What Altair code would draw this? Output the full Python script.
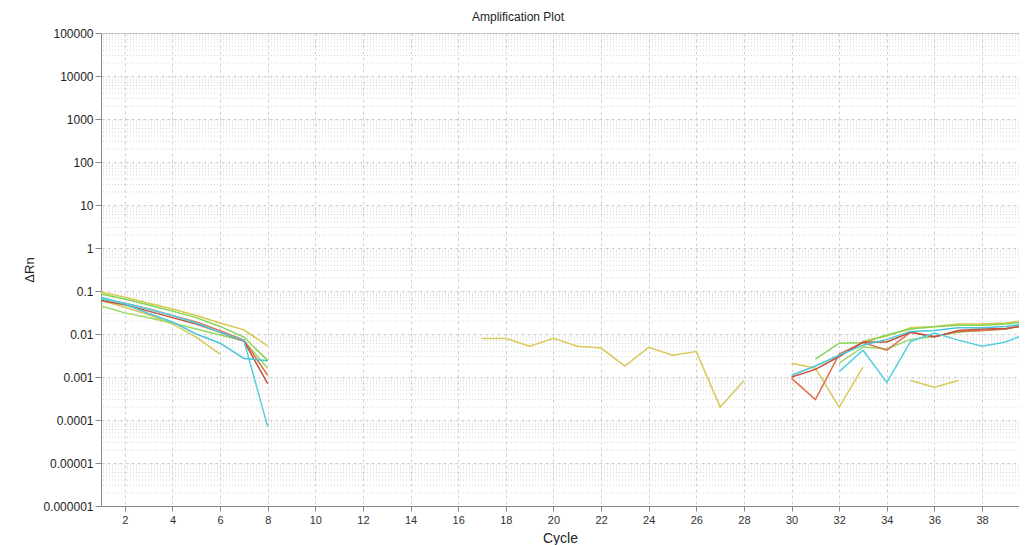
import altair as alt
import pandas as pd

N = None
cycles = list(range(1, 41))

series_names = ["yellow_a", "yellow_b", "green_a", "green_b", "red_a", "red_b", "cyan_a", "cyan_b"]
series_colors = ["#d6c94a", "#d9c95a", "#86d456", "#9ad860", "#e0704e", "#c2503c", "#4cc6d8", "#58cde0"]

yellow_a = [0.095, 0.072, 0.052, 0.038, 0.027, 0.018, 0.0125, 0.0053] + [N] * 24 + \
           [0.0068, 0.009, 0.014, 0.015, 0.017, 0.017, 0.018, 0.021]
yellow_b = [0.06, 0.042, 0.028, 0.017, 0.0085, 0.0034] + [N] * 10 + \
           [0.0079, 0.0079, 0.0052, 0.0079, 0.0052, 0.0047, 0.0018, 0.0049, 0.0032, 0.0039, 0.0002, 0.00082] + \
           [N] + [0.0021, 0.0016, 0.0002, 0.0017] + [N] + [0.00083, 0.00058, 0.00083] + [N] * 3
green_a = [0.085, 0.065, 0.047, 0.034, 0.024, 0.015, 0.0085, 0.0024] + [N] * 22 + \
          [0.0026, 0.0061, 0.0063, 0.0095, 0.013, 0.0148, 0.016, 0.016, 0.017, 0.02]
green_b = [0.045, 0.031, 0.024, 0.018, 0.013, 0.0095, 0.007, 0.0016] + [N] * 23 + \
          [0.0021, 0.005, 0.0045, 0.0075, 0.0087, 0.011, 0.012, 0.013, 0.018]
red_a = [0.065, 0.052, 0.038, 0.027, 0.019, 0.012, 0.0072, 0.0011] + [N] * 21 + \
        [0.00093, 0.0003, 0.0034, 0.0063, 0.0042, 0.011, 0.0087, 0.0115, 0.012, 0.013, 0.017]
red_b = [0.06, 0.048, 0.034, 0.024, 0.017, 0.011, 0.0068, 0.0007] + [N] * 21 + \
        [0.001, 0.0015, 0.003, 0.0065, 0.0065, 0.011, 0.0085, 0.012, 0.013, 0.0135, 0.016]
cyan_a = [0.072, 0.05, 0.03, 0.019, 0.01, 0.0061, 0.0027, 0.0024] + [N] * 21 + \
         [0.0011, 0.0018, 0.0032, 0.0055, 0.0075, 0.0115, 0.012, 0.014, 0.014, 0.015, 0.018]
cyan_b = [0.065, 0.052, 0.038, 0.027, 0.018, 0.011, 0.007, 0.00007] + [N] * 23 + \
         [0.00133, 0.0042, 0.00075, 0.0067, 0.0105, 0.0072, 0.0052, 0.0065, 0.011]

x_ticks = list(range(2, 40, 2))
y_ticks = [1e-6, 1e-5, 1e-4, 1e-3, 1e-2, 1e-1, 1, 10, 100, 1000, 10000, 100000]

all_series = dict(zip(series_names, [yellow_a, yellow_b, green_a, green_b, red_a, red_b, cyan_a, cyan_b]))

rows = []
for name, vals in all_series.items():
    seg = 0
    prev = False
    for c, v in zip(cycles, vals):
        if v is None:
            prev = False
            continue
        if not prev:
            seg += 1
        rows.append({"series": name, "cycle": c, "drn": v, "seg": f"{name}-{seg}"})
        prev = True
df = pd.DataFrame(rows)

minor = [m * 10.0 ** e for e in range(-6, 5) for m in range(2, 10)]
minor_df = pd.DataFrame({"v": minor})

FONT = "Liberation Sans"
xscale = alt.Scale(domain=[1, 39.55], nice=False, zero=False)
yscale = alt.Scale(type="log", domain=[1e-6, 1e5], nice=False)

x_axis = alt.Axis(values=x_ticks, title="Cycle", grid=True, gridDash=[3, 3],
                  gridColor="#d0d0d0", labelFontSize=11, labelFont=FONT,
                  labelColor="#333", titleFont=FONT, titleFontSize=14,
                  titleFontWeight="normal", titleColor="#222", titlePadding=6,
                  domainColor="#888", tickColor="#888", tickSize=5, labelPadding=3)
y_axis = alt.Axis(values=y_ticks, format=".6~f", title="ΔRn", grid=True, gridDash=[3, 3],
                  gridColor="#cfcfcf", labelFontSize=12, labelFont=FONT,
                  labelColor="#222", titleFont=FONT, titleFontSize=13,
                  titleFontWeight="normal", titleColor="#222", titlePadding=6,
                  domainColor="#888", tickColor="#888", tickSize=6, labelPadding=2)

grid_minor = alt.Chart(minor_df).mark_rule(
    color="#d4d4d4", strokeWidth=1, strokeDash=[1, 2]
).encode(y=alt.Y("v:Q", scale=yscale, axis=y_axis))

lines = alt.Chart(df).mark_line(strokeWidth=1.5, clip=True).encode(
    x=alt.X("cycle:Q", scale=xscale, axis=x_axis),
    y=alt.Y("drn:Q", scale=yscale, axis=y_axis),
    color=alt.Color("series:N", scale=alt.Scale(domain=series_names, range=series_colors), legend=None),
    detail="seg:N",
)

chart = alt.layer(grid_minor, lines).properties(
    width=918, height=473,
    title=alt.TitleParams("Amplification Plot", fontSize=12, fontWeight="normal", font=FONT,
                          color="#222", offset=3, dx=-42, frame="group"),
    autosize=alt.AutoSizeParams(type="none"),
    padding={"left": 93, "top": 25, "right": 0, "bottom": 39},
).configure_view(stroke="#b8b8b8")

chart.save("out.html", embed_options={"renderer": "svg", "actions": False})
